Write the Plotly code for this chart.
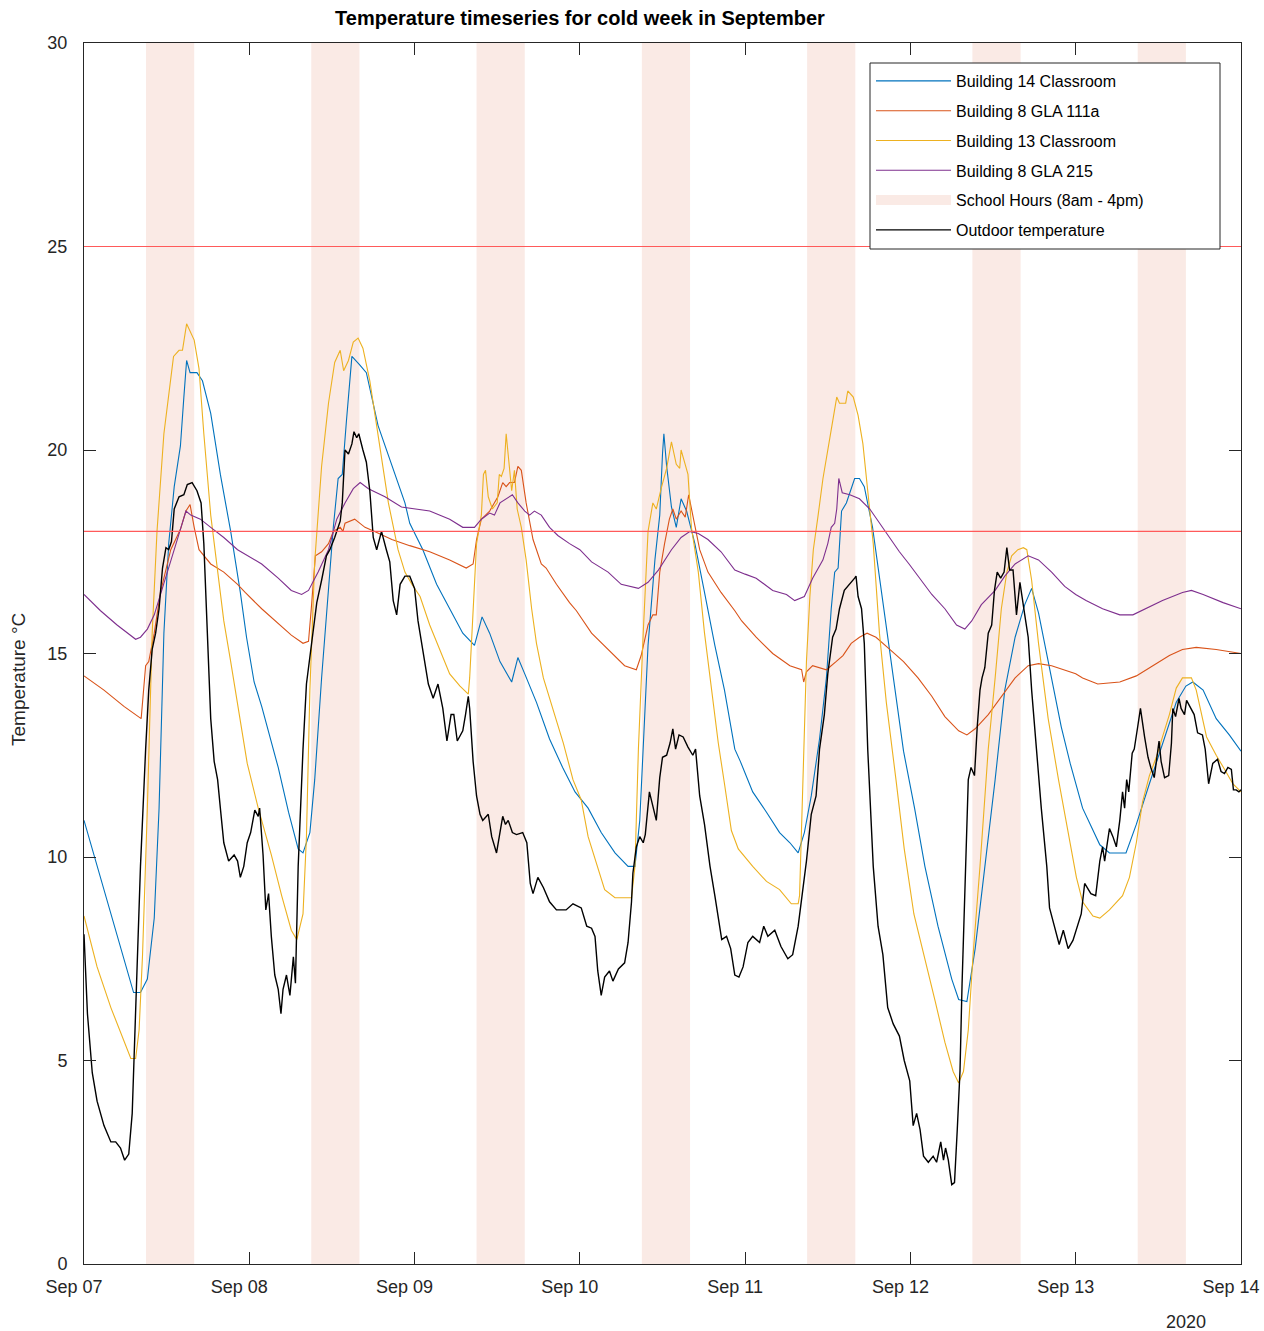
import pandas as pd
import plotly.graph_objects as go

# ---------------- data (hours since 2020-09-07 00:00, temperature in °C) ----------------
start_date = "2020-09-07"

b14_hours = [0, 7.2, 8.2, 9.2, 10.2, 10.9, 11.6, 12.3, 13.1, 14.0, 14.5, 14.9, 15.4, 16.4, 17.2, 18.4, 19.8, 21.3, 22.7,
             23.6, 24.7, 25.8, 28.2, 29.7, 31.1, 31.8, 32.8, 33.5, 34.5, 35.5, 36.2, 36.9, 37.5, 38.1, 38.9, 40.0, 41.0,
             42.7, 44.7, 46.6, 47.3, 49.2, 51.2, 53.1, 55.0, 56.7, 57.8, 58.9, 60.4, 62.1, 63.0, 64.0, 65.7, 67.6, 69.5,
             71.3, 73.2, 75.1, 77.1, 79.0, 80.0, 80.7, 81.2, 81.9, 82.9, 83.6, 84.0, 84.2, 84.6, 85.3, 86.0, 86.7, 87.5,
             88.7, 90.1, 91.6, 93.0, 94.5, 95.3, 97.1, 99.1, 101.0, 102.5, 103.7, 104.6, 105.6, 106.8, 107.8, 108.5,
             109.0, 109.5, 110.0, 110.7, 111.9, 112.6, 113.3, 114.5, 116.0, 117.5, 119.0, 120.6, 122.1, 124.0, 126.0,
             127.0, 128.2, 129.4, 130.8, 132.3, 133.7, 135.2, 136.6, 137.6, 138.6, 140.0, 141.9, 143.2, 145.0, 147.5,
             148.9, 151.3, 152.8, 154.7, 156.6, 158.6, 160.0, 161.0, 162.5, 164.4, 166.3, 168.0]
b14_temp = [10.9, 6.67, 6.67, 7.0, 8.5, 11.2, 15.5, 17.7, 19.1, 20.1, 21.3, 22.2, 21.9, 21.9, 21.7, 20.9, 19.4, 18.0, 16.5,
            15.4, 14.3, 13.7, 12.2, 11.1, 10.2, 10.1, 10.6, 11.9, 14.4, 16.7, 18.1, 19.3, 19.4, 20.7, 22.3, 22.1, 21.9,
            20.6, 19.6, 18.7, 18.2, 17.55, 16.7, 16.1, 15.5, 15.2, 15.9, 15.5, 14.8, 14.3, 14.9, 14.5, 13.8, 12.9, 12.2,
            11.6, 11.2, 10.6, 10.1, 9.77, 9.77, 10.9, 12.65, 15.2, 17.3, 18.4, 19.9, 20.4, 19.6, 18.6, 18.1, 18.8, 18.5,
            17.7, 16.5, 15.2, 14.1, 12.65, 12.35, 11.6, 11.1, 10.6, 10.35, 10.1, 10.6, 11.5, 12.9, 14.4, 16.1,
            17.0, 17.1, 18.5, 18.7, 19.3, 19.3, 19.1, 18.1, 16.3, 14.4, 12.6, 11.2, 9.77, 8.3, 7.0,
            6.5, 6.45, 7.75, 9.77, 11.9, 14.1, 15.4, 16.2, 16.6, 16.0, 14.8, 13.2, 12.3, 11.2, 10.3,
            10.1, 10.1, 10.8, 11.8, 12.8, 13.8, 14.2, 14.3, 14.1, 13.4, 13.0, 12.6]

b8_111a_hours = [0, 2.9, 5.8, 8.3, 8.95, 9.4, 10.2, 11.1, 12.6, 14.0, 14.8, 15.4, 16.0, 16.7, 18.4, 20.3, 22.3, 23.4, 25.8,
                 28.2, 30.1, 31.8, 32.6, 33.0, 33.6, 34.5, 35.5, 36.2, 37.2, 37.6, 37.9, 39.3, 40.8, 42.2, 44.7, 47.3,
                 50.2, 53.1, 55.5, 56.5, 57.0, 57.7, 58.9, 60.1, 60.8, 61.3, 61.8, 62.5, 63.0, 63.5, 64.2, 65.2, 66.4,
                 67.1, 68.6, 70.5, 71.5, 73.7, 76.1, 78.5, 80.2, 80.9, 81.9, 82.6, 83.1, 83.6, 84.3, 85.0, 85.5, 86.0,
                 86.7, 87.3, 87.8, 88.4, 89.4, 90.6, 92.5, 94.5, 95.5, 97.6, 100.0, 102.5, 104.2, 104.5, 104.9, 105.8,
                 107.8, 109.2, 110.2, 111.4, 112.6, 113.7, 115.0, 117.0, 119.0, 121.1, 123.1, 125.0, 127.0, 128.2, 129.4,
                 131.3, 133.2, 135.2, 137.1, 138.6, 140.5, 142.4, 144.0, 145.0, 147.2, 150.4, 152.8, 155.2, 157.6, 159.5,
                 161.5, 164.4, 168.0]
b8_111a_temp = [14.45, 14.1, 13.7, 13.4, 14.7, 14.8, 15.5, 16.5, 17.55, 18.05, 18.5, 18.66, 18.1, 17.55, 17.2, 17.0, 16.7,
                16.5, 16.1, 15.75, 15.45, 15.25, 15.3, 16.1, 17.4, 17.5, 17.7, 18.0, 18.1, 18.0, 18.2, 18.3, 18.1, 18.0,
                17.8, 17.65, 17.5, 17.3, 17.1, 17.2, 17.8, 18.3, 18.5, 18.85, 19.2, 19.1, 19.2, 19.2, 19.6, 19.5, 18.7,
                17.8, 17.2, 17.1, 16.7, 16.25, 16.05, 15.5, 15.1, 14.7, 14.6, 14.95, 15.7, 15.95, 15.95, 17.0, 17.7, 18.3,
                18.55, 18.3, 18.5, 18.35, 18.9, 18.4, 17.55, 17.0, 16.5, 16.05, 15.8, 15.4, 15.0, 14.7, 14.6, 14.3,
                14.55, 14.7, 14.6, 14.8, 14.95, 15.25, 15.4, 15.5, 15.4, 15.1, 14.8, 14.4, 13.95, 13.45, 13.1, 13.0,
                13.15, 13.5, 13.95, 14.4, 14.7, 14.75, 14.7, 14.6, 14.5, 14.4, 14.25, 14.3, 14.45, 14.7, 14.95, 15.1,
                15.15, 15.1, 15.0]

b13_hours = [0, 1.9, 3.9, 5.8, 6.8, 7.5, 8.0, 8.5, 9.2, 9.9, 10.6, 11.6, 12.3, 13.0, 13.8, 14.3, 14.9, 15.4, 16.0, 16.7,
             17.4, 18.4, 19.4, 20.3, 21.3, 22.3, 23.7, 25.3, 27.2, 28.7, 30.1, 30.9, 31.8, 32.3, 32.8, 33.5, 34.5, 35.5,
             36.4, 37.2, 37.7, 38.4, 39.1, 39.8, 40.5, 41.5, 42.7, 44.2, 45.6, 46.6, 47.6, 48.8, 50.2, 51.7, 53.1, 54.6,
             55.8, 56.0, 56.5, 57.0, 57.7, 58.0, 58.3, 58.7, 59.3, 60.0, 60.3, 60.6, 61.0, 61.3, 61.7, 62.1, 62.5, 62.9,
             63.5, 64.2, 65.0, 65.7, 66.7, 68.1, 69.6, 71.0, 72.2, 73.2, 74.6, 75.6, 77.1, 79.5, 80.0, 80.5, 81.2,
             81.9, 82.6, 83.1, 83.8, 84.6, 85.3, 86.0, 86.5, 86.7, 87.2, 87.7, 88.2, 89.2, 90.1, 91.1, 92.1, 93.0,
             94.0, 95.0, 96.0, 97.1, 99.1, 101.0, 102.7, 103.7, 103.9, 104.4, 104.9, 105.4, 105.9, 106.6, 107.3,
             108.3, 108.7, 109.3, 109.7, 110.6, 110.9, 111.7, 112.4, 113.1, 113.8, 114.6, 115.5, 116.5, 117.9, 119.1,
             120.5, 122.1, 123.6, 125.0, 126.2, 127.0, 127.7, 128.4, 129.1, 130.1, 131.3, 132.3, 133.2, 134.0, 134.7,
             135.6, 136.4, 136.9, 137.6, 138.6, 140.0, 141.5, 142.9, 144.1, 145.0, 146.5, 147.5, 148.9, 150.8, 151.8,
             152.8, 153.7, 154.7, 155.7, 156.6, 157.6, 158.6, 159.5, 160.8, 161.5, 163.0, 164.4, 165.8, 166.8, 168.0]
b13_temp = [8.55, 7.3, 6.3, 5.45, 5.05, 5.05, 5.75, 7.6, 11.2, 15.5, 18.0, 20.4, 21.3, 22.3, 22.45, 22.45, 23.1, 22.9,
            22.7, 22.0, 20.4, 18.4, 17.0, 15.8, 14.8, 13.8, 12.3, 11.2, 10.05, 9.05, 8.2, 7.97, 8.6, 10.5, 14.1, 17.25,
            19.6, 21.15, 22.15, 22.45, 21.95, 22.2, 22.65, 22.75, 22.5, 21.7, 20.4, 18.7, 17.55, 17.0, 16.7, 16.4,
            15.7, 15.1, 14.5, 14.2, 14.0, 14.4, 16.25, 17.7, 18.4, 19.4, 19.5, 18.85, 18.55, 18.7, 19.4, 19.35, 19.55,
            20.4, 19.7, 19.0, 19.5, 18.55, 18.1, 17.3, 16.1, 15.25, 14.4, 13.65, 12.8, 11.9, 11.4, 10.5, 9.77, 9.2,
            9.0, 9.0, 9.77, 12.65, 15.5, 18.0, 18.7, 18.55, 19.05, 19.55, 20.2, 19.65, 19.55, 20.0, 19.7, 19.4, 18.1,
            17.0, 15.5, 14.1, 12.8, 11.8, 10.65, 10.2, 10.0, 9.77, 9.4, 9.2, 8.85, 8.85, 9.05, 11.9, 14.8, 16.4,
            17.55, 18.4, 19.3, 20.3, 20.7, 21.3, 21.15, 21.15, 21.45, 21.3, 20.85, 20.15, 19.0, 17.7, 15.5, 13.8,
            11.9, 10.2, 8.6, 7.45, 6.45, 5.45, 4.73, 4.45, 4.73, 5.75, 7.6, 9.77, 12.65, 14.4, 16.1, 17.0, 17.4,
            17.55, 17.6, 17.55, 16.8, 15.25, 13.4, 11.9, 10.65, 9.5, 8.9, 8.55, 8.5, 8.7, 9.05, 9.5, 10.35, 11.35,
            12.0, 12.45, 12.95, 13.5, 14.15, 14.4, 14.4, 14.1, 12.95, 12.5, 12.1, 11.8, 11.6]

b8_215_hours = [0, 2.4, 4.8, 7.5, 8.2, 9.2, 10.2, 11.6, 13.1, 14.0, 14.8, 15.5, 16.9, 18.4, 20.3, 22.3, 23.8, 25.8, 28.2,
                30.1, 31.6, 32.6, 34.0, 35.5, 36.7, 37.9, 39.1, 40.1, 41.3, 43.7, 46.1, 48.0, 50.2, 53.1, 55.0, 56.7,
                57.7, 58.9, 59.6, 60.4, 61.3, 62.2, 63.0, 64.0, 64.7, 65.4, 66.4, 67.6, 68.8, 70.5, 72.0, 73.7, 76.1,
                78.0, 80.5, 81.9, 83.4, 85.3, 86.7, 88.0, 89.2, 90.6, 92.5, 94.5, 96.0, 97.6, 100.0, 102.0, 103.2, 104.6,
                105.8, 107.3, 108.0, 108.5, 109.0, 109.3, 109.6, 110.1, 111.2, 112.6, 114.1, 115.5, 117.0, 118.4, 119.8,
                121.1, 123.1, 125.0, 126.7, 127.9, 128.9, 130.3, 132.3, 133.7, 135.2, 137.1, 138.6, 140.5, 142.4, 144.0,
                145.5, 147.9, 150.4, 152.3, 154.2, 156.6, 159.5, 160.8, 162.5, 165.4, 168.0]
b8_215_temp = [16.45, 16.05, 15.7, 15.35, 15.4, 15.6, 15.95, 16.75, 17.55, 18.05, 18.5, 18.4, 18.3, 18.1, 17.85, 17.55,
               17.4, 17.2, 16.85, 16.55, 16.45, 16.55, 17.0, 17.55, 18.3, 18.7, 19.05, 19.2, 19.05, 18.85, 18.6, 18.55,
               18.5, 18.3, 18.1, 18.1, 18.3, 18.45, 18.4, 18.7, 18.8, 18.9, 18.7, 18.5, 18.4, 18.5, 18.4, 18.1, 17.9,
               17.7, 17.55, 17.25, 17.0, 16.7, 16.6, 16.75, 17.05, 17.55, 17.85, 18.0, 17.95, 17.8, 17.5, 17.05, 16.95,
               16.85, 16.55, 16.45, 16.3, 16.4, 16.85, 17.3, 17.7, 18.1, 18.2, 18.55, 19.3, 18.95, 18.9, 18.8, 18.55,
               18.2, 17.85, 17.5, 17.2, 16.9, 16.45, 16.1, 15.7, 15.6, 15.8, 16.2, 16.55, 16.9, 17.2, 17.4, 17.3, 17.0,
               16.65, 16.45, 16.3, 16.1, 15.95, 15.95, 16.1, 16.3, 16.5, 16.55, 16.45, 16.25, 16.1]

outdoor_hours = [0, 0.5, 1.2, 1.9, 2.9, 3.9, 4.6, 5.3, 5.9, 6.5, 7.0, 7.5, 8.2, 8.95, 9.4, 9.9, 10.4, 10.9, 11.4, 11.9,
                 12.3, 12.7, 13.1, 13.8, 14.5, 15.0, 15.7, 16.4, 17.0, 17.4, 17.9, 18.4, 18.9, 19.4, 19.8, 20.3, 21.0,
                 21.8, 22.3, 22.7, 23.2, 23.7, 24.2, 24.8, 25.3, 25.5, 26.0, 26.4, 26.8, 27.2, 27.7, 28.2, 28.6, 28.9,
                 29.4, 29.9, 30.4, 30.7, 31.1, 31.8, 32.3, 33.0, 33.8, 34.5, 35.2, 35.7, 36.4, 37.2, 37.5, 37.9, 38.4,
                 38.9, 39.2, 39.6, 39.9, 40.5, 41.0, 41.5, 42.0, 42.5, 43.2, 43.9, 44.4, 44.9, 45.4, 45.9, 46.6, 47.3,
                 48.0, 48.5, 49.2, 50.0, 50.7, 51.4, 52.1, 52.7, 53.3, 53.7, 54.2, 55.0, 55.4, 55.8, 56.0, 56.5, 57.0,
                 57.5, 57.9, 58.7, 59.2, 59.9, 60.3, 60.8, 61.2, 61.6, 62.2, 62.8, 63.7, 64.3, 64.8, 65.2, 65.9, 66.7,
                 67.6, 68.6, 70.0, 71.0, 72.2, 73.0, 73.7, 74.2, 74.6, 75.1, 75.6, 76.3, 76.8, 77.6, 78.5, 79.0, 79.5,
                 79.7, 80.2, 80.7, 81.2, 81.5, 82.1, 82.8, 83.1, 83.6, 84.0, 84.6, 85.1, 85.5, 85.9, 86.4, 87.0, 87.7,
                 88.4, 88.8, 89.4, 90.1, 90.9, 91.6, 92.6, 93.3, 93.9, 94.5, 95.1, 95.7, 96.4, 97.1, 98.1, 98.7, 99.3,
                 100.3, 101.2, 102.2, 102.9, 103.7, 104.4, 104.9, 105.6, 106.3, 106.8, 107.5, 108.0, 108.7, 109.2,
                 109.7, 110.4, 111.2, 111.9, 112.1, 112.4, 112.9, 113.3, 113.8, 114.6, 115.3, 116.0, 116.7, 117.5,
                 118.4, 119.1, 119.9, 120.4, 120.9, 121.4, 121.9, 122.6, 123.3, 123.8, 124.4, 124.8, 125.1, 125.5,
                 126.0, 126.4, 126.8, 127.2, 127.5, 127.9, 128.4, 128.8, 129.3, 129.7, 130.1, 130.4, 130.8, 131.3,
                 131.8, 132.2, 132.6, 133.1, 133.6, 134.0, 134.4, 134.9, 135.4, 135.9, 136.2, 136.6, 137.1, 137.6,
                 138.3, 139.0, 139.8, 140.2, 140.9, 141.6, 142.2, 142.9, 143.6, 144.3, 144.8, 145.3, 145.8, 146.2,
                 146.9, 147.5, 147.9, 148.2, 148.9, 149.4, 149.9, 150.4, 150.8, 151.1, 151.4, 151.7, 152.2, 152.5,
                 153.0, 153.4, 154.0, 154.5, 154.9, 155.4, 156.1, 156.4, 156.9, 157.5, 157.9, 158.1, 158.5, 159.0,
                 159.3, 159.8, 160.1, 160.8, 161.2, 161.7, 162.4, 162.8, 163.3, 163.9, 164.6, 165.1, 165.6, 166.1,
                 166.6, 166.9, 167.3, 167.7, 168.0]
outdoor_temp = [8.1, 6.15, 4.7, 4.0, 3.4, 3.0, 3.0, 2.85, 2.55, 2.7, 3.7, 6.15, 9.77, 12.65, 14.1, 15.1, 15.5, 16.1, 17.1,
                17.6, 17.55, 17.75, 18.55, 18.85, 18.9, 19.15, 19.2, 19.0, 18.7, 17.7, 15.5, 13.4, 12.35, 11.9, 11.2,
                10.35, 9.9, 10.05, 9.9, 9.5, 9.77, 10.35, 10.6, 11.15, 11.0, 11.2, 10.05, 8.7, 9.1, 8.05, 7.1, 6.75,
                6.15, 6.75, 7.1, 6.6, 7.55, 6.9, 9.77, 12.65, 14.25, 15.25, 16.25, 16.8, 17.4, 17.55, 17.85, 18.25, 18.7,
                20.0, 19.9, 20.15, 20.45, 20.3, 20.4, 20.0, 19.7, 19.0, 17.85, 17.55, 18.0, 17.55, 17.25, 16.3, 15.95,
                16.7, 16.9, 16.9, 16.6, 15.8, 15.1, 14.25, 13.9, 14.25, 13.65, 12.85, 13.5, 13.5, 12.85, 13.1, 13.5,
                13.95, 13.65, 12.35, 11.5, 11.05, 10.9, 11.05, 10.5, 10.1, 10.5, 11.0, 10.8, 10.9, 10.6, 10.55, 10.6,
                10.35, 9.35, 9.1, 9.5, 9.25, 8.9, 8.7, 8.7, 8.85, 8.75, 8.3, 8.25, 8.05, 7.2, 6.6, 7.05, 7.2, 6.95,
                7.25, 7.4, 7.9, 8.9, 9.6, 10.25, 10.5, 10.35, 10.55, 11.6, 11.05, 10.9, 11.95, 12.45, 12.5, 12.8, 13.15,
                12.65, 13.0, 12.95, 12.7, 12.5, 12.65, 11.5, 10.8, 9.77, 9.05, 7.97, 8.05, 7.75, 7.1, 7.05, 7.3, 7.9,
                8.05, 7.9, 8.3, 8.05, 8.2, 7.8, 7.5, 7.6, 8.3, 9.2, 9.9, 11.05, 11.5, 12.65, 13.5, 14.5, 15.4, 15.6,
                16.1, 16.55, 16.7, 16.85, 16.9, 16.4, 16.1, 15.25, 12.65, 9.77, 8.3, 7.6, 6.3, 5.9, 5.6, 5.0, 4.5, 3.4,
                3.7, 3.3, 2.65, 2.5, 2.65, 2.5, 3.0, 2.55, 2.85, 2.55, 1.95, 2.0, 3.3, 4.75, 6.9, 9.05, 11.9, 12.2,
                12.0, 13.2, 14.1, 14.4, 14.65, 15.5, 15.7, 16.55, 17.0, 16.85, 17.0, 17.6, 17.05, 17.05, 15.95, 16.75,
                16.45, 15.95, 15.4, 14.1, 12.65, 11.2, 9.77, 8.75, 8.3, 7.85, 8.2, 7.75, 7.95, 8.3, 8.6, 9.35, 9.2,
                9.1, 9.05, 9.9, 10.25, 9.9, 10.7, 10.5, 10.25, 10.9, 11.6, 11.2, 11.9, 11.6, 12.55, 12.65, 13.2, 13.65,
                12.95, 12.45, 12.2, 11.95, 12.85, 12.35, 11.95, 12.0, 12.8, 13.65, 13.45, 13.9, 13.65, 13.5, 13.85,
                13.65, 13.5, 13.05, 13.0, 12.65, 11.8, 12.3, 12.4, 12.1, 12.05, 12.2, 12.15, 11.65, 11.65, 11.6, 11.65]

school_days = ["2020-09-07", "2020-09-08", "2020-09-09", "2020-09-10", "2020-09-11", "2020-09-12", "2020-09-13"]
school_start_hour = 9
school_end_hour = 16
threshold_values = [25, 18]

y_ticks = [0, 5, 10, 15, 20, 25, 30]

# ---------------- figure ----------------
base = pd.Timestamp(start_date)


def to_time(hours):
    return [base + pd.Timedelta(hours=h) for h in hours]


series = [
    ("Building 14 Classroom", b14_hours, b14_temp, "#0072BD", 1.1),
    ("Building 8 GLA 111a", b8_111a_hours, b8_111a_temp, "#D95319", 1.1),
    ("Building 13 Classroom", b13_hours, b13_temp, "#EDB120", 1.1),
    ("Building 8 GLA 215", b8_215_hours, b8_215_temp, "#7E2F8E", 1.1),
]
shade_color = "rgb(250,234,229)"

fig = go.Figure()

# school-hours shading (drawn behind everything)
sx, sy = [], []
for d in school_days:
    d0 = pd.Timestamp(d)
    s = d0 + pd.Timedelta(hours=school_start_hour)
    e = d0 + pd.Timedelta(hours=school_end_hour)
    sx += [s, e, e, s, s, None]
    sy += [0, 0, 30, 30, 0, None]
fig.add_trace(go.Scatter(x=sx, y=sy, fill="toself", mode="lines", line=dict(width=0),
                         fillcolor=shade_color, name="School Hours (8am - 4pm)",
                         showlegend=False, hoverinfo="skip"))
# legend entry for the shading (swatch only)
fig.add_trace(go.Scatter(x=[None], y=[None], mode="lines", line=dict(color=shade_color, width=13),
                         name="School Hours (8am - 4pm)", legendrank=5, legendgroup="g5"))

rank = 1
for name, hrs, temps, color, lw in series:
    fig.add_trace(go.Scatter(x=to_time(hrs), y=temps, mode="lines", name=name,
                             line=dict(color=color, width=lw), legendrank=rank, legendgroup=f"g{rank}"))
    rank += 1

fig.add_trace(go.Scatter(x=to_time(outdoor_hours), y=outdoor_temp, mode="lines", name="Outdoor temperature",
                         line=dict(color="black", width=1.4), legendrank=6, legendgroup="g6"))

for v in threshold_values:
    fig.add_shape(type="line", xref="paper", x0=0, x1=1, yref="y", y0=v, y1=v,
                  line=dict(color="rgb(255,90,90)", width=1.2), layer="above")

font_family = "Liberation Sans, Arial, sans-serif"
axis_color = "rgb(38,38,38)"

# legend frame (white box with dark border) behind the legend entries
fig.add_shape(type="rect", xref="paper", yref="paper",
              x0=(870 - 84) / 1157, x1=(1220 - 84) / 1157,
              y0=(1264 - 249) / 1221, y1=(1264 - 63) / 1221,
              fillcolor="white", line=dict(color=axis_color, width=1), layer="above")

fig.update_layout(
    width=1264, height=1331,
    margin=dict(l=84, r=23, t=43, b=67, autoexpand=False),
    paper_bgcolor="white", plot_bgcolor="white",
    font=dict(family=font_family, size=18, color=axis_color),
    title=dict(text="<b>Temperature timeseries for cold week in September</b>",
               x=580 / 1264, xref="container", xanchor="center",
               y=1 - 18 / 1331, yref="container", yanchor="middle",
               font=dict(family=font_family, size=20, color="black")),
    showlegend=True,
    legend=dict(x=(871 - 84) / 1157, y=(1264 - 64) / 1221, xanchor="left", yanchor="top",
                bgcolor="rgba(0,0,0,0)", borderwidth=0,
                font=dict(family=font_family, size=16, color="black"),
                traceorder="grouped", tracegroupgap=6, itemwidth=75),
    xaxis=dict(range=[base, base + pd.Timedelta(days=7)], type="date",
               tickformat="%b %d", dtick=86400000, tick0=base, automargin=False,
               ticks="inside", ticklen=12, tickcolor=axis_color, tickwidth=1,
               showline=True, linecolor=axis_color, linewidth=1, mirror="allticks",
               showgrid=False, zeroline=False, ticklabelshift=-10, ticklabelstandoff=6,
               tickfont=dict(size=18, color=axis_color)),
    yaxis=dict(range=[0, 30], tickvals=y_ticks, automargin=False,
               ticks="inside", ticklen=12, tickcolor=axis_color, tickwidth=1,
               showline=True, linecolor=axis_color, linewidth=1, mirror="allticks",
               showgrid=False, zeroline=False, ticklabelstandoff=12,
               tickfont=dict(size=18, color=axis_color)),
)

fig.add_annotation(text="Temperature °C", xref="paper", yref="paper",
                   x=(18 - 84) / 1157, y=(1264 - 680) / 1221, textangle=-90,
                   showarrow=False, font=dict(family=font_family, size=19, color=axis_color),
                   xanchor="center", yanchor="middle")
fig.add_annotation(text="2020", xref="paper", yref="paper",
                   x=(1186 - 84) / 1157, y=(1264 - 1322) / 1221,
                   showarrow=False, font=dict(family=font_family, size=18, color=axis_color),
                   xanchor="center", yanchor="middle")

fig.write_html("out.html")
